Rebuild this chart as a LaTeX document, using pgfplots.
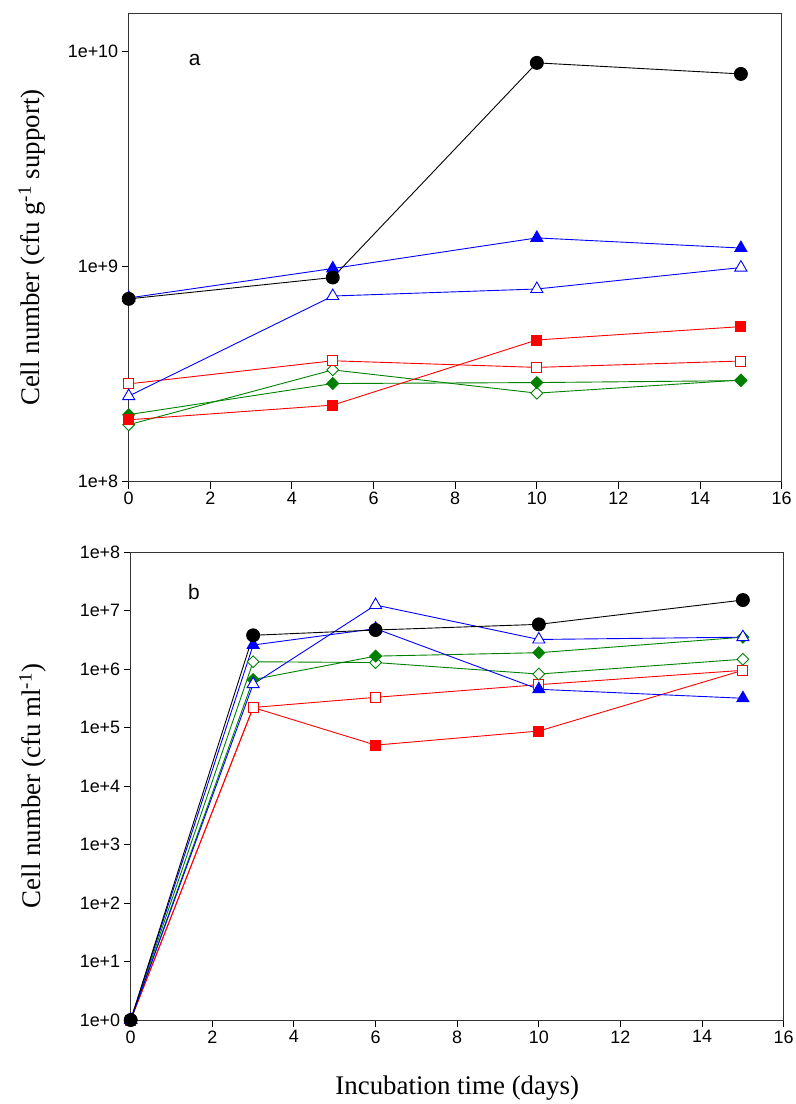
\documentclass[border=0pt]{standalone}
\usepackage{fontspec}
\setmainfont{Liberation Serif}
\newfontfamily\arialf{Liberation Sans}
\usepackage{pgfplots}
\pgfplotsset{compat=1.18}
\definecolor{dgreen}{RGB}{0,128,0}
\pgfplotsset{
  blk/.style={black, mark=*, mark size=6.5bp, line width=0.9bp},
  bluef/.style={blue, mark=triangle*, mark size=7bp, line width=0.9bp},
  blueo/.style={blue, mark=triangle*, mark size=7bp, line width=0.9bp, mark options={fill=white}},
  redf/.style={red, mark=square*, mark size=5bp, line width=0.9bp},
  redo/.style={red, mark=square*, mark size=5bp, line width=0.9bp, mark options={fill=white}},
  greenf/.style={dgreen, mark=square*, mark size=4.2bp, line width=0.9bp, mark options={rotate=45}},
  greeno/.style={dgreen, mark=square*, mark size=4.2bp, line width=0.9bp, mark options={rotate=45, fill=white}},
}
\begin{document}
\begin{tikzpicture}
\useasboundingbox (0bp,0bp) rectangle (796bp,-1104bp);
% ---------------- panel a
\begin{axis}[
  scale only axis, width=653bp, height=468bp,
  at={(128.7bp,-481.7bp)}, anchor=south west,
  ymode=log, xmin=0, xmax=16,
  xtick={0,2,4,6,8,10,12,14,16}, xticklabels={0,2,4,6,8,10,12,14,16},
  tick align=outside, xtick pos=left, ytick pos=left,
  major tick length=7bp, yminorticks=false, xminorticks=false,
  tick label style={font=\arialf\fontsize{18}{20}\selectfont},
  label style={font=\fontsize{27}{30}\selectfont},
  axis line style={line width=1bp, draw=black!80},
  every tick/.style={black, line width=1bp},
  clip=false,
  ymin=1e8, ymax=1.5e10,
  ytick={1e8,1e9,1e10}, yticklabels={1e+8,1e+9,1e+10},
  ylabel={Cell number (cfu g\textsuperscript{-1} support)},
  ylabel style={at={(axis description cs:-0.148,0.5)}, anchor=center},
]
\addplot[greeno] coordinates {(0,1.84e8) (5,3.31e8) (10,2.58e8) (15,2.97e8)};
\addplot[greenf] coordinates {(0,2.05e8) (5,2.86e8) (10,2.89e8) (15,2.95e8)};
\addplot[redf] coordinates {(0,1.94e8) (5,2.27e8) (10,4.56e8) (15,5.26e8)};
\addplot[redo] coordinates {(0,2.85e8) (5,3.65e8) (10,3.4e8) (15,3.64e8)};
\addplot[blueo] coordinates {(0,2.5e8) (5,7.3e8) (10,7.87e8) (15,9.9e8)};
\addplot[bluef] coordinates {(0,7.15e8) (5,9.8e8) (10,1.36e9) (15,1.22e9)};
\addplot[blk] coordinates {(0,7.08e8) (5,8.9e8) (10,8.86e9) (15,7.87e9)};
\node[font=\arialf\fontsize{21}{24}\selectfont] at (axis cs:1.62,9.1e9) {a};
\end{axis}
% ---------------- panel b
\begin{axis}[
  scale only axis, width=653bp, height=468bp,
  at={(130.7bp,-1020bp)}, anchor=south west,
  ymode=log, xmin=0, xmax=16,
  xtick={0,2,4,6,8,10,12,14,16}, xticklabels={0,2,4,6,8,10,12,14,16},
  tick align=outside, xtick pos=left, ytick pos=left,
  major tick length=7bp, yminorticks=false, xminorticks=false,
  tick label style={font=\arialf\fontsize{18}{20}\selectfont},
  label style={font=\fontsize{27}{30}\selectfont},
  axis line style={line width=1bp, draw=black!80},
  every tick/.style={black, line width=1bp},
  clip=false,
  ymin=1, ymax=1e8,
  ytick={1,1e1,1e2,1e3,1e4,1e5,1e6,1e7,1e8},
  yticklabels={1e+0,1e+1,1e+2,1e+3,1e+4,1e+5,1e+6,1e+7,1e+8},
  ylabel={Cell number (cfu ml\textsuperscript{-1})},
  ylabel style={at={(axis description cs:-0.15,0.5)}, anchor=center},
  xlabel={Incubation time (days)},
  xlabel style={at={(axis description cs:0.5,0)}, yshift=-68bp, anchor=center},
]
\addplot[redf] coordinates {(0,1) (3,2.2e5) (6,5.0e4) (10,8.7e4) (15,9.5e5)};
\addplot[redo] coordinates {(0,1) (3,2.2e5) (6,3.28e5) (10,5.4e5) (15,9.5e5)};
\addplot[greeno] coordinates {(0,1) (3,1.33e6) (6,1.29e6) (10,8.2e5) (15,1.47e6)};
\addplot[greenf] coordinates {(0,1) (3,6.6e5) (6,1.66e6) (10,1.9e6) (15,3.5e6)};
\addplot[blueo] coordinates {(0,1) (3,5.5e5) (6,1.24e7) (10,3.2e6) (15,3.5e6)};
\addplot[bluef] coordinates {(0,1) (3,2.57e6) (6,4.9e6) (10,4.5e5) (15,3.16e5)};
\addplot[blk] coordinates {(0,1) (3,3.77e6) (6,4.64e6) (10,5.8e6) (15,1.51e7)};
\node[font=\arialf\fontsize{21}{24}\selectfont] at (axis cs:1.55,2.05e7) {b};
\end{axis}
\end{tikzpicture}
\end{document}
